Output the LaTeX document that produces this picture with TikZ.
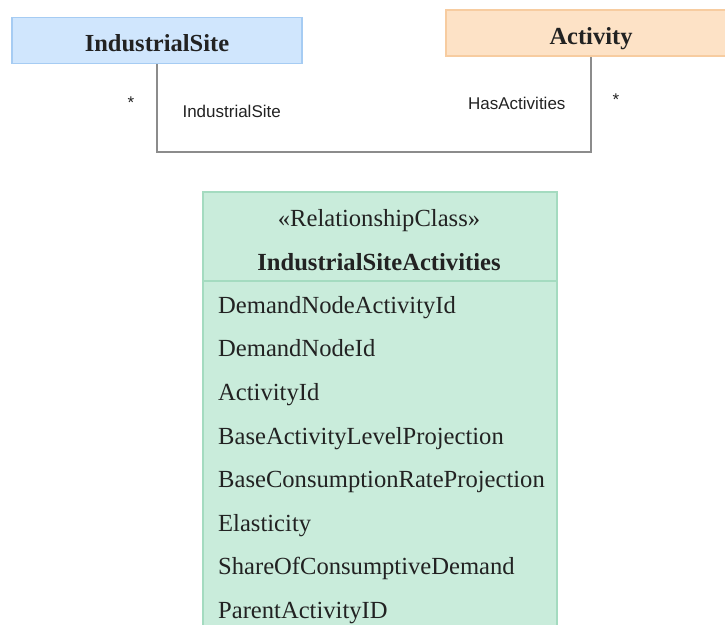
\documentclass[tikz,border=0pt]{standalone}
\usepackage{fontspec}
\setmainfont{Liberation Serif}
\newfontfamily\labelfont{Liberation Sans}
\usetikzlibrary{calc}

\definecolor{siteblue}{HTML}{D0E6FD}
\definecolor{siteblueline}{HTML}{A6CCF3}
\definecolor{actorange}{HTML}{FDE2C6}
\definecolor{actorangeline}{HTML}{F7CCA0}
\definecolor{relgreen}{HTML}{C9ECDB}
\definecolor{relgreenline}{HTML}{A4DBC0}
\definecolor{linkgray}{HTML}{8C8C8C}
\definecolor{inkgray}{HTML}{222222}

\tikzset{
  classbox/.style={draw, line width=1.5pt, minimum width=290pt, minimum height=46pt,
    inner sep=0pt, text height=22pt, text depth=0pt,
    font=\fontsize{24.5}{28}\selectfont\bfseries, text=inkgray},
  rolelabel/.style={font=\labelfont\fontsize{17}{20}\selectfont, text=inkgray},
  attr/.style={anchor=base west, inner sep=0pt, font=\fontsize{24.6}{28}\selectfont, text=inkgray},
  link/.style={draw=linkgray, line width=1.5pt}
}

\begin{document}
\begin{tikzpicture}[x=1pt, y=-1pt]
  \useasboundingbox (0,0) rectangle (725,624);

  % classes
  \node[classbox, fill=siteblue, draw=siteblueline] (site) at (157,40.5) {IndustrialSite};
  \node[classbox, fill=actorange, draw=actorangeline] (act) at (591,33) {Activity};

  % association
  \coordinate (bend) at (591,152);
  \draw[link] (site.south) |- (bend) -- (act.south);
  \node[rolelabel] (sitestar) at (131,103) {*};
  \node[rolelabel, anchor=west] (siterole) at (179,111) {IndustrialSite};
  \node[rolelabel, anchor=east] (actrole) at (569,103) {HasActivities};
  \node[rolelabel] (actstar) at (616,100) {*};

  % relationship class
  \node[draw=relgreenline, fill=relgreen, line width=1.5pt, anchor=north west,
        minimum width=354pt, minimum height=460pt] (rel) at (202,191) {};
  \node[font=\fontsize{24.6}{28}\selectfont, text=inkgray, inner sep=0pt, anchor=base] (stereo) at (379,226) {«RelationshipClass»};
  \node[font=\fontsize{24.6}{28}\selectfont\bfseries, text=inkgray, inner sep=0pt, anchor=base] (relname) at (379,270) {IndustrialSiteActivities};
  \draw[draw=relgreenline, line width=1.5pt] ($(rel.north west)+(0,90)$) -- ($(rel.north east)+(0,90)$);

  % attributes
  \foreach \attrname [count=\i] in {DemandNodeActivityId, DemandNodeId, ActivityId,
      BaseActivityLevelProjection, BaseConsumptionRateProjection, Elasticity,
      ShareOfConsumptiveDemand, ParentActivityID}
    \node[attr] (attr\i) at (218, 269.6+\i*43.6) {\attrname};
\end{tikzpicture}
\end{document}
